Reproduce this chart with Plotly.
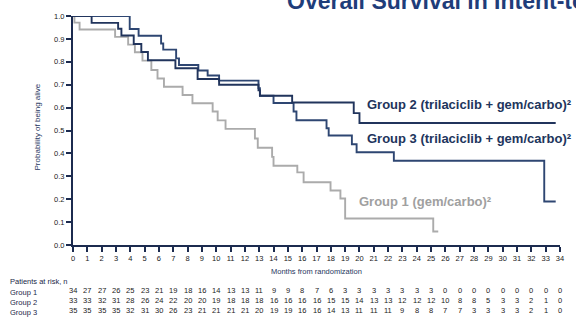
import plotly.graph_objects as go

# ---------------- data ----------------
months = list(range(0, 35))

g1_t = [0, 0.1, 0.46, 2.94, 3.85, 4.32, 4.85, 5.47, 5.9, 6.35, 7.65, 8.34, 9.75, 10.1, 10.65,
        12.7, 12.9, 13.9, 14.0, 15.66, 16.1, 17.98, 18.67, 19.0, 25.15, 25.5]
g1_s = [1.0, 0.971, 0.941, 0.909, 0.875, 0.842, 0.805, 0.764, 0.727, 0.691, 0.655, 0.619, 0.583, 0.544, 0.507,
        0.465, 0.425, 0.385, 0.346, 0.317, 0.274, 0.238, 0.203, 0.116, 0.059, 0.059]

g2_t = [0, 1.3, 3.15, 3.38, 4.24, 4.77, 5.23, 7.15, 8.7, 10.2, 12.95, 13.05, 15.3, 19.6, 20.0, 33.7]
g2_s = [1.0, 0.970, 0.944, 0.915, 0.878, 0.843, 0.807, 0.772, 0.725, 0.700, 0.675, 0.652, 0.622, 0.576, 0.533, 0.533]

g3_t = [0, 3.96, 4.58, 6.15, 6.3, 7.2, 7.4, 8.75, 9.4, 10.2, 12.95, 13.05, 14.0, 15.4, 15.6,
        17.7, 17.85, 19.47, 19.8, 22.4, 32.9, 33.7]
g3_s = [1.0, 0.943, 0.914, 0.880, 0.853, 0.815, 0.786, 0.762, 0.740, 0.718, 0.685, 0.652, 0.620, 0.583, 0.545,
        0.510, 0.478, 0.440, 0.405, 0.368, 0.190, 0.190]

risk_g1 = [34, 27, 27, 26, 25, 23, 21, 19, 18, 16, 14, 13, 13, 11, 9, 9, 8, 7, 6, 3, 3, 3, 3, 3, 3, 3,
           0, 0, 0, 0, 0, 0, 0, 0, 0]
risk_g2 = [33, 33, 32, 31, 28, 26, 24, 22, 20, 20, 19, 18, 18, 18, 16, 16, 16, 16, 15, 15, 14, 13, 13,
           12, 12, 12, 10, 8, 8, 5, 3, 3, 2, 1, 0]
risk_g3 = [35, 35, 35, 35, 32, 31, 30, 26, 23, 21, 21, 21, 21, 20, 19, 19, 16, 16, 14, 13, 11, 11, 11,
           9, 8, 8, 7, 7, 3, 3, 3, 3, 2, 1, 0]

yticks = [0.0, 0.1, 0.2, 0.3, 0.4, 0.5, 0.6, 0.7, 0.8, 0.9, 1.0]

label_g1 = "Group 1 (gem/carbo)²"
label_g2 = "Group 2 (trilaciclib + gem/carbo)²"
label_g3 = "Group 3 (trilaciclib + gem/carbo)²"
title_text = "Overall Survival in Intent-to-Treat Population"

# ---------------- styles ----------------
FONT = "Liberation Sans, Arial, sans-serif"
NAVY = "#1f3660"
C1 = "#ababab"
C2 = "#21345c"
C3 = "#2e4672"
AXIS = "#1c2b4f"

fig = go.Figure()
for t, s, c in [(g1_t, g1_s, C1), (g3_t, g3_s, C3), (g2_t, g2_s, C2)]:
    fig.add_trace(go.Scatter(x=t, y=s, mode="lines", line=dict(shape="hv", color=c, width=1.9),
                             cliponaxis=False, showlegend=False, hoverinfo="skip"))

fig.update_layout(
    width=576, height=322,
    margin=dict(l=73, r=13, t=13, b=77),
    paper_bgcolor="white", plot_bgcolor="white",
    font=dict(family=FONT, size=7, color="#222"),
    xaxis=dict(range=[0, 34], tickmode="array", tickvals=months, ticktext=[str(m) for m in months],
               showgrid=False, zeroline=False, showline=True, linecolor=AXIS, linewidth=2,
               ticks="outside", ticklen=5, tickwidth=1.5, tickcolor=AXIS,
               tickfont=dict(size=7.5, color="#1a1a1a", family=FONT)),
    yaxis=dict(range=[0, 1], tickmode="array", tickvals=yticks, ticktext=[f"{v:.1f}" for v in yticks],
               showgrid=False, zeroline=False, showline=True, linecolor=AXIS, linewidth=2,
               ticks="outside", ticklen=5, tickwidth=1.5, tickcolor=AXIS,
               tickfont=dict(size=7.5, color="#1a1a1a", family=FONT)),
)

H0, PH = 245.3, 232.0


def py(ypix):
    return (H0 - ypix) / PH


def px(xpix):
    return (xpix - 73) / 490.0


ann = []
# title (clipped at top/right like the reference)
ann.append(dict(text=f"<b>{title_text}</b>", x=px(286), y=py(13), xref="paper", yref="paper",
                xanchor="left", yanchor="bottom", showarrow=False,
                font=dict(size=23, color="#1f3d7a", family=FONT)))
# axis titles
ann.append(dict(text="Probability of being alive", x=px(37), y=py(126), xref="paper", yref="paper",
                xanchor="center", yanchor="middle",
                textangle=-90, showarrow=False, font=dict(size=8, color=NAVY, family=FONT)))
ann.append(dict(text="Months from randomization", x=0.5, y=py(272), xref="paper", yref="paper",
                xanchor="center", yanchor="middle",
                showarrow=False, font=dict(size=7.5, color=NAVY, family=FONT)))
# curve labels
ann.append(dict(text=f"<b>{label_g2}</b>", x=20.4, y=0.614, xref="x", yref="y", xanchor="left",
                yanchor="middle", showarrow=False, font=dict(size=13, color=C2, family=FONT)))
ann.append(dict(text=f"<b>{label_g3}</b>", x=20.4, y=0.463, xref="x", yref="y", xanchor="left",
                yanchor="middle", showarrow=False, font=dict(size=13, color=C2, family=FONT)))
ann.append(dict(text=f"<b>{label_g1}</b>", x=19.8, y=0.191, xref="x", yref="y", xanchor="left",
                yanchor="middle", showarrow=False, font=dict(size=13, color="#a0a0a0", family=FONT)))
# risk table
ann.append(dict(text="Patients at risk, n", x=px(8), y=py(282.7), xref="paper", yref="paper",
                xanchor="left", yanchor="middle", showarrow=False,
                font=dict(size=7.5, color="#1a2747", family=FONT)))
rows = [("Group 1", risk_g1, 291.3, 293.7), ("Group 2", risk_g2, 301.3, 303.7),
        ("Group 3", risk_g3, 311.3, 313.7)]
for name, vals, ynum, ylab in rows:
    ann.append(dict(text=name, x=px(8), y=py(ylab), xref="paper", yref="paper", xanchor="left",
                    yanchor="middle", showarrow=False, font=dict(size=7.5, color="#1a2747", family=FONT)))
    for m, v in zip(months, vals):
        ann.append(dict(text=str(v), x=m, y=py(ynum), xref="x", yref="paper", showarrow=False,
                        xanchor="center", yanchor="middle",
                        font=dict(size=7.5, color="#222", family=FONT)))

fig.update_layout(annotations=ann)
fig.write_html("out.html", config={"displayModeBar": False},
               post_script="document.body.style.margin='0';document.body.style.overflow='hidden';")
